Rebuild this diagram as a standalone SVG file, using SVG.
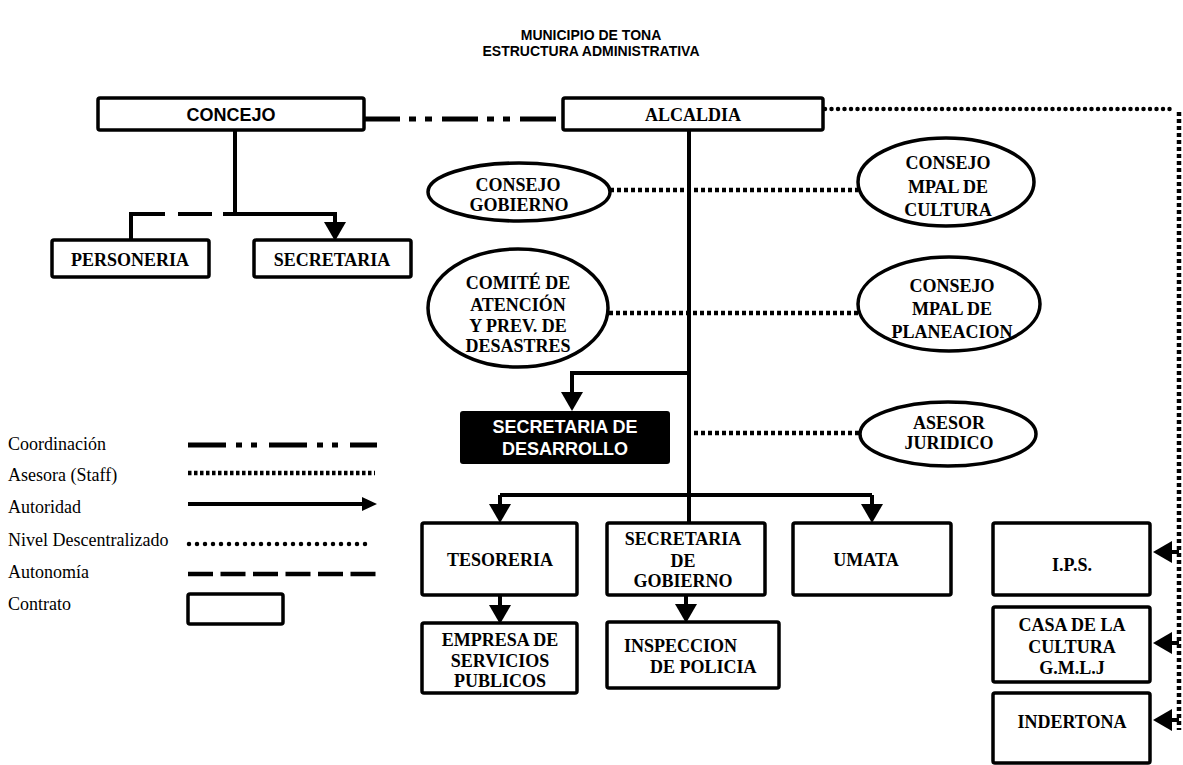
<svg xmlns="http://www.w3.org/2000/svg" width="1183" height="765" viewBox="0 0 1183 765">
<style>
.bx{fill:#fff;stroke:#000;stroke-width:3.5}
.el{fill:#fff;stroke:#000;stroke-width:3.5}
.t{font-family:"Liberation Serif","Times New Roman",serif;font-weight:bold;font-size:18px;fill:#000;text-anchor:middle}
.tl{font-family:"Liberation Serif","Times New Roman",serif;font-weight:bold;font-size:18px;fill:#000;text-anchor:start}
.ts{font-family:"Liberation Sans",Arial,sans-serif;font-weight:bold;font-size:18px;fill:#000;text-anchor:middle}
.tw{font-family:"Liberation Sans",Arial,sans-serif;font-weight:bold;font-size:18px;fill:#fff;text-anchor:middle}
.lg{font-family:"Liberation Serif","Times New Roman",serif;font-size:18px;fill:#000}
.title{font-family:"Liberation Sans",Arial,sans-serif;font-weight:bold;font-size:14px;fill:#000;text-anchor:middle}
.ln{fill:none;stroke:#000;stroke-width:4}
.coord{fill:none;stroke:#000;stroke-width:5;stroke-dasharray:36 9 7 9 7 10}
.staff{fill:none;stroke:#000;stroke-width:4.5;stroke-dasharray:4 3}
.desc{fill:none;stroke:#000;stroke-width:4.5;stroke-linecap:round;stroke-dasharray:0 6.5}
.auto{fill:none;stroke:#000;stroke-width:4.5;stroke-dasharray:24 8}
</style>
<defs>
<marker id="ah" markerUnits="userSpaceOnUse" orient="auto" markerWidth="19" markerHeight="22" refX="0" refY="11" overflow="visible">
<path d="M0,0 L19,11 L0,22 z" fill="#000"/>
</marker>
<marker id="ahs" markerUnits="userSpaceOnUse" orient="auto" markerWidth="15" markerHeight="14" refX="0" refY="7" overflow="visible">
<path d="M0,0 L15,7 L0,14 z" fill="#000"/>
</marker>
</defs>

<g id="title">
<text class="title" x="591" y="40">MUNICIPIO DE TONA</text>
<text class="title" x="591" y="56">ESTRUCTURA ADMINISTRATIVA</text>
</g>

<g id="connectors">
<path class="coord" d="M364,119 H563"/>
<path class="ln" d="M235,131 V214 H335 V222" marker-end="url(#ah)"/>
<path class="ln" d="M235,214 H131 V240" stroke-dasharray="12 11 34 13 200"/>
<path class="ln" d="M689,122 V523"/>
<path class="ln" d="M689,373 H572 V392" marker-end="url(#ah)"/>
<path class="ln" d="M500,495 H872"/>
<path class="ln" d="M500,495 V504" marker-end="url(#ah)"/>
<path class="ln" d="M872,495 V504" marker-end="url(#ah)"/>
<path class="ln" d="M500,595 V605" marker-end="url(#ah)"/>
<path class="ln" d="M686,595 V604" marker-end="url(#ah)"/>
<path class="staff" d="M610,190 H858"/>
<path class="staff" d="M609,313 H858"/>
<path class="staff" d="M694,433 H860"/>
<path class="desc" d="M825,109 H1172"/>
<path class="staff" d="M1179,112 V730"/>
<path class="ln" d="M1179,552 H1172" marker-end="url(#ah)"/>
<path class="ln" d="M1179,643 H1172" marker-end="url(#ah)"/>
<path class="ln" d="M1179,720 H1172" marker-end="url(#ah)"/>
</g>

<g id="concejo"><rect class="bx" x="98" y="98" width="266" height="32" rx="2"/><text class="ts" x="231" y="121">CONCEJO</text></g>
<g id="alcaldia"><rect class="bx" x="563" y="98" width="260" height="32" rx="2"/><text class="t" x="693" y="121">ALCALDIA</text></g>
<g id="personeria"><rect class="bx" x="52" y="240" width="157" height="37" rx="2"/><text class="t" x="130" y="266">PERSONERIA</text></g>
<g id="secretaria"><rect class="bx" x="254" y="240" width="157" height="37" rx="2"/><text class="t" x="332" y="266">SECRETARIA</text></g>

<g id="consejo-gobierno"><ellipse class="el" cx="519" cy="192" rx="91" ry="29"/><text class="t" x="518" y="191">CONSEJO</text><text class="t" x="519" y="211">GOBIERNO</text></g>
<g id="consejo-cultura"><ellipse class="el" cx="946" cy="182" rx="88" ry="44"/><text class="t" x="948" y="169">CONSEJO</text><text class="t" x="948" y="193">MPAL DE</text><text class="t" x="948" y="216">CULTURA</text></g>
<g id="comite"><ellipse class="el" cx="518" cy="308" rx="90" ry="59"/><text class="t" x="518" y="289">COMITÉ DE</text><text class="t" x="518" y="311">ATENCIÓN</text><text class="t" x="518" y="332">Y PREV. DE</text><text class="t" x="518" y="352">DESASTRES</text></g>
<g id="consejo-planeacion"><ellipse class="el" cx="949" cy="304" rx="91" ry="47"/><text class="t" x="952" y="292">CONSEJO</text><text class="t" x="952" y="315">MPAL DE</text><text class="t" x="952" y="338">PLANEACION</text></g>
<g id="secretaria-desarrollo"><rect x="460" y="411" width="210" height="53" rx="3" fill="#000"/><text class="tw" x="565" y="433">SECRETARIA DE</text><text class="tw" x="565" y="455">DESARROLLO</text></g>
<g id="asesor"><ellipse class="el" cx="948" cy="434" rx="88" ry="32"/><text class="t" x="949" y="429">ASESOR</text><text class="t" x="949" y="449">JURIDICO</text></g>

<g id="tesoreria"><rect class="bx" x="422" y="523" width="155" height="72" rx="2"/><text class="t" x="500" y="566">TESORERIA</text></g>
<g id="secretaria-gobierno"><rect class="bx" x="607" y="523" width="158" height="72" rx="2"/><text class="t" x="683" y="545">SECRETARIA</text><text class="t" x="683" y="567">DE</text><text class="t" x="683" y="587">GOBIERNO</text></g>
<g id="umata"><rect class="bx" x="793" y="523" width="158" height="72" rx="2"/><text class="t" x="866" y="566">UMATA</text></g>
<g id="empresa"><rect class="bx" x="422" y="623" width="155" height="70" rx="2"/><text class="t" x="500" y="646">EMPRESA DE</text><text class="t" x="500" y="667">SERVICIOS</text><text class="t" x="500" y="687">PUBLICOS</text></g>
<g id="inspeccion"><rect class="bx" x="607" y="622" width="172" height="66" rx="2"/><text class="tl" x="624" y="652">INSPECCION</text><text class="tl" x="650" y="673">DE POLICIA</text></g>
<g id="ips"><rect class="bx" x="993" y="523" width="157" height="72" rx="2"/><text class="t" x="1072" y="571">I.P.S.</text></g>
<g id="casa-cultura"><rect class="bx" x="993" y="607" width="157" height="75" rx="2"/><text class="t" x="1072" y="631">CASA DE LA</text><text class="t" x="1072" y="653">CULTURA</text><text class="t" x="1072" y="674">G.M.L.J</text></g>
<g id="indertona"><rect class="bx" x="993" y="693" width="157" height="70" rx="2"/><text class="t" x="1072" y="728">INDERTONA</text></g>

<g id="legend">
<text class="lg" x="8" y="450">Coordinación</text>
<path class="coord" d="M188,445 H377" style="stroke-dasharray:38 10 6 9 6 12"/>
<text class="lg" x="8" y="481">Asesora (Staff)</text>
<path class="staff" d="M188,473 H375" style="stroke-dasharray:3.5 2.5"/>
<text class="lg" x="8" y="513">Autoridad</text>
<path class="ln" d="M188,504 H362" marker-end="url(#ahs)"/>
<text class="lg" x="8" y="546">Nivel Descentralizado</text>
<path class="desc" d="M189,544 H372" style="stroke-dasharray:0 8"/>
<text class="lg" x="8" y="578">Autonomía</text>
<path class="auto" d="M188,574 H377" style="stroke-dasharray:25 7.5"/>
<text class="lg" x="8" y="610">Contrato</text>
<rect class="bx" x="188" y="594" width="95" height="30" rx="2"/>
</g>
</svg>
